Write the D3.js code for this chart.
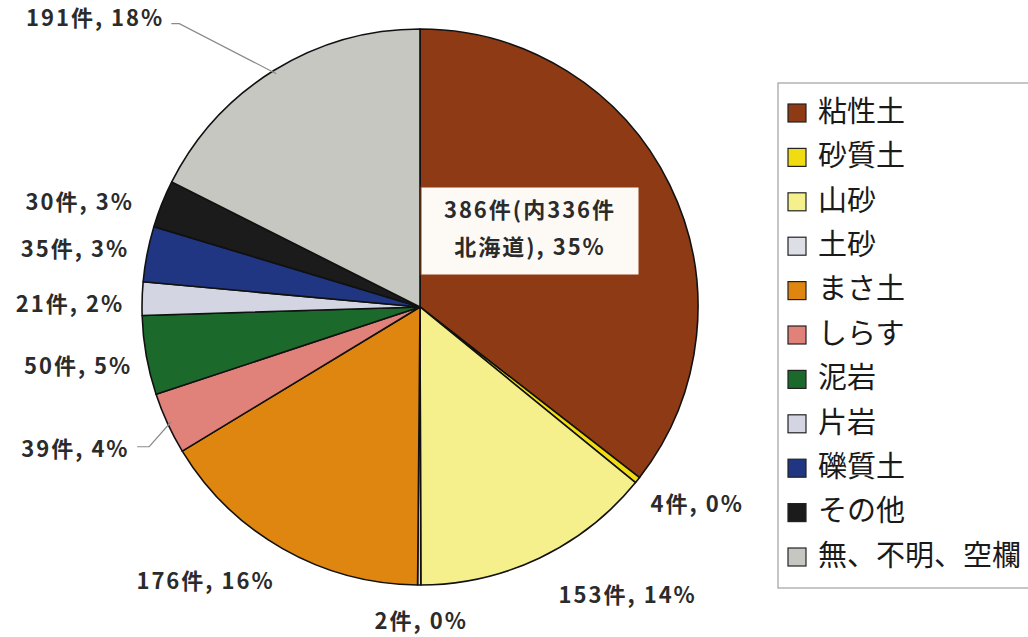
<!DOCTYPE html>
<html>
<head>
<meta charset="utf-8">
<script src="https://cdn.jsdelivr.net/npm/d3@7"></script>
<style>
  body { margin: 0; background: #fff; }
  svg { display: block; }
  .lbl { font-family: "Noto Sans CJK JP", "DejaVu Sans", sans-serif; font-size: 22px; font-weight: 700; fill: #2b2b2b; letter-spacing: 2px; }
  .leg { font-family: "Noto Sans CJK JP", sans-serif; font-size: 29px; fill: #1a1a1a; }
</style>
</head>
<body>
<svg id="chart"></svg>
<script>
// soil types, in pie order (clockwise from 12 o'clock)
var categories = ['粘性土', '砂質土', '山砂', '土砂', 'まさ土', 'しらす', '泥岩', '片岩', '礫質土', 'その他', '無、不明、空欄'];
var counts = [386, 4, 153, 2, 176, 39, 50, 21, 35, 30, 191];
var percents = [35, 0, 14, 0, 16, 4, 5, 2, 3, 3, 18];
var colors = ['#8e3b15', '#f0dc10', '#f5f08c', '#dcdfe6', '#de860f', '#e0817a', '#1b6a2b', '#d3d5e2', '#203682', '#1b1b1b', '#c7c7c2'];

var labelText = counts.map(function (c, i) {
    return c + '件, ' + percents[i] + '%';
});

var width = 1028, height = 637;
var cx = 420, cy = 307, radius = 278;

var svg = d3.select('#chart')
    .attr('width', width)
    .attr('height', height);

var pie = d3.pie().sort(null).value(function (d) { return d; });
var arcs = pie(counts);

var arc = d3.arc().innerRadius(0).outerRadius(radius);

var g = svg.append('g')
    .attr('transform', 'translate(' + cx + ',' + cy + ')');

g.selectAll('path')
    .data(arcs)
    .enter()
    .append('path')
    .attr('d', arc)
    .attr('fill', function (d, i) { return colors[i]; })
    .attr('stroke', '#111')
    .attr('stroke-width', 1.6)
    .attr('stroke-linejoin', 'round');

// label placement, relative to the point on the rim at mid angle
// [dx, dy, anchor]
var labelPos = [
    null,
    [13, 26, 'start'],
    [88, 39, 'middle'],
    [2, 38, 'middle'],
    [-77, 34, 'middle'],
    [-38, 28, 'end'],
    [-14, 13, 'end'],
    [-18, 7, 'end'],
    [-18, -3, 'end'],
    [-28, 0, 'end'],
    [-110, -50, 'end']
];

function rimPoint(d, r) {
    var a = (d.startAngle + d.endAngle) / 2;
    return [Math.sin(a) * r, -Math.cos(a) * r];
}

arcs.forEach(function (d, i) {
    var p = labelPos[i];
    if (!p) return;
    var rp = rimPoint(d, radius);
    g.append('text')
        .attr('class', 'lbl')
        .attr('x', rp[0] + p[0])
        .attr('y', rp[1] + p[1])
        .attr('text-anchor', p[2])
        .attr('dominant-baseline', 'middle')
        .text(labelText[i]);
});

// leader lines for the two outside labels that need them
[10, 5].forEach(function (i) {
    var rp = rimPoint(arcs[i], radius - 4);
    var path = (i === 10)
        ? [[rp[0] - 105, rp[1] - 50], [rp[0] - 97, rp[1] - 50], [rp[0], rp[1]]]
        : [[rp[0] - 34, rp[1] + 25], [rp[0] - 22, rp[1] + 25], [rp[0], rp[1]]];
    g.append('path')
        .attr('d', d3.line()(path))
        .attr('fill', 'none')
        .attr('stroke', '#8a8a8a')
        .attr('stroke-width', 1.2);
});

// boxed label inside the largest slice
var box = g.append('g').attr('transform', 'translate(' + 110 + ',' + (-76) + ')');
box.append('rect')
    .attr('x', -109).attr('y', -44)
    .attr('width', 218).attr('height', 88)
    .attr('fill', '#fdfaf6')
    .attr('stroke', '#8e3b15');
box.append('text')
    .attr('class', 'lbl')
    .attr('text-anchor', 'middle')
    .attr('y', -19)
    .attr('dominant-baseline', 'middle')
    .text(counts[0] + '件(内336件');
box.append('text')
    .attr('class', 'lbl')
    .attr('text-anchor', 'middle')
    .attr('y', 18)
    .attr('dominant-baseline', 'middle')
    .text('北海道), ' + percents[0] + '%');

// legend
var legX = 778, legY = 83, legH = 505, legStep = 44.4;
var legend = svg.append('g');
legend.append('rect')
    .attr('x', legX).attr('y', legY)
    .attr('width', 270).attr('height', legH)
    .attr('fill', '#fff')
    .attr('stroke', '#a0a0a0')
    .attr('stroke-width', 1.2);

var items = legend.selectAll('g.item')
    .data(categories)
    .enter()
    .append('g')
    .attr('class', 'item')
    .attr('transform', function (d, i) {
        return 'translate(' + (legX + 10) + ',' + (legY + 30 + i * legStep) + ')';
    });

items.append('rect')
    .attr('x', 0).attr('y', -9)
    .attr('width', 18).attr('height', 18)
    .attr('fill', function (d, i) { return colors[i]; })
    .attr('stroke', '#222')
    .attr('stroke-width', 1.2);

items.append('text')
    .attr('class', 'leg')
    .attr('x', 30)
    .attr('y', 1)
    .attr('dominant-baseline', 'middle')
    .text(function (d) { return d; });
</script>
</body>
</html>
